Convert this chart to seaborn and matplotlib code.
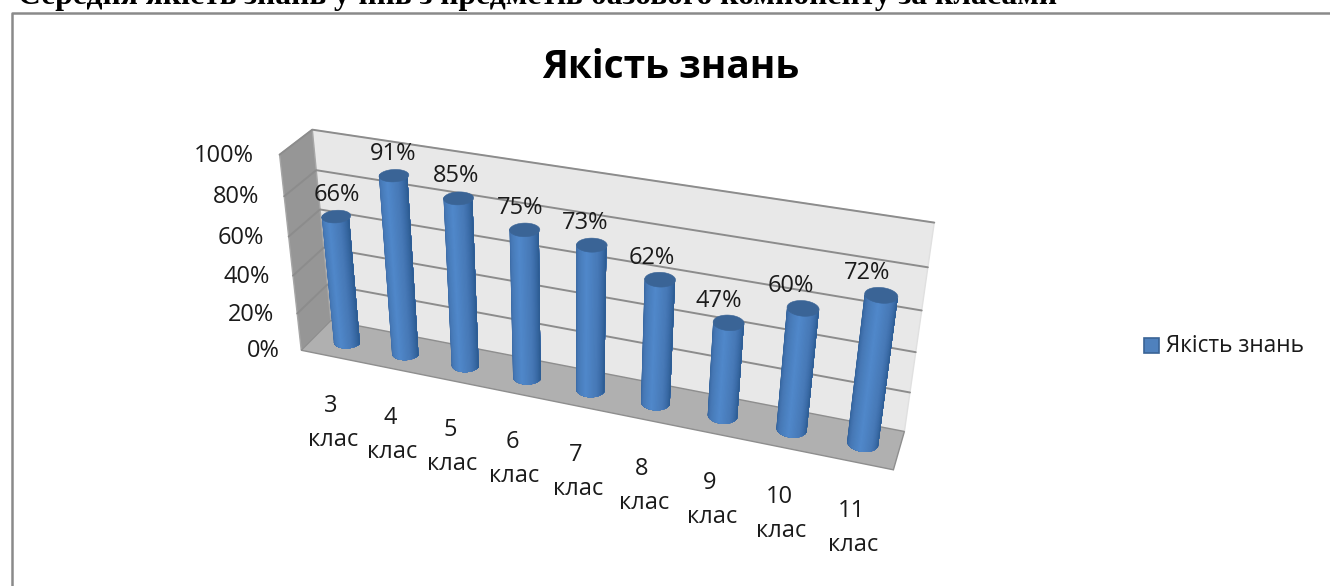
import numpy as np
import matplotlib
matplotlib.use('Agg')
import matplotlib.pyplot as plt
import seaborn as sns
from matplotlib.colors import LinearSegmentedColormap
from matplotlib.patches import Polygon, Rectangle

classes = ['3', '4', '5', '6', '7', '8', '9', '10', '11']
quality = [66, 91, 85, 75, 73, 62, 47, 60, 72]
y_ticks = [0, 20, 40, 60, 80, 100]
series_name = 'Якість знань'
chart_title = 'Якість знань'
page_heading = 'Середня якість знань учнів з предметів базового компоненту за класами'

FONT = 'Open Sans'
TEXT_COL = '#1a1a1a'
# box corners in the picture: (across, depth, height) -> pixel
BOX = [
    ((0, 0, 0), (304, 348)), ((1, 0, 0), (893, 472)),
    ((0, 1, 0), (328, 323)), ((1, 1, 0), (905, 429)),
    ((0, 0, 1), (277, 155)), ((0, 1, 1), (315, 129)),
    ((1, 1, 1), (934, 223)),
]


def fit_camera(box):
    rows = []
    for (a, d, h), (px, py) in box:
        px, py = px / 1000, py / 1000
        rows.append([a, d, h, 1, 0, 0, 0, 0, -px * a, -px * d, -px * h, -px])
        rows.append([0, 0, 0, 0, a, d, h, 1, -py * a, -py * d, -py * h, -py])
    return np.linalg.svd(np.array(rows))[2][-1].reshape(3, 4)


CAM = fit_camera(BOX)


def project(a, d, h):
    # a, d, h can be arrays
    a, d, h = np.broadcast_arrays(a, d, h)
    pts = np.stack([a, d, h, np.ones_like(a, dtype=float)])
    res = CAM @ pts.reshape(4, -1)
    return np.stack([res[0] / res[2], res[1] / res[2]], axis=-1) * 1000


sns.set_theme(style='white')
plt.rcParams['font.family'] = [FONT, 'DejaVu Sans']
fig = plt.figure(figsize=(13.3, 5.86), dpi=100)
fig.patch.set_facecolor('white')

# bar geometry comes from seaborn on a hidden axes
data_ax = fig.add_axes([0, 0, 1, 1])
sns.barplot(x=classes, y=quality, ax=data_ax, width=0.46)
data_ax.set_ylim(0, 100)
data_ax.set_xlim(-0.55, 8.5)
x_lo, x_hi = data_ax.get_xlim()
bars = list(data_ax.patches)
data_ax.set_visible(False)

ax = fig.add_axes([0, 0, 1, 1])
ax.set_xlim(0, 1330)
ax.set_ylim(586, 0)
ax.axis('off')

# page frame runs off the right and bottom of the picture
ax.plot([11.5, 11.5, 1340], [600, 13, 13], color='#8a8a8a', lw=1.8)
ax.text(18, 4, page_heading, family='Liberation Serif', weight='bold', fontsize=22.8,
        color='black', ha='left', va='baseline')
ax.text(671, 67, chart_title, fontsize=28, weight='bold', color='black', ha='center', va='center')


def face(corners, color, edge='#a6a6a6'):
    xy = np.array([project(*c)[0] for c in corners])
    ax.add_patch(Polygon(xy, closed=True, fc=color, ec=edge, lw=1, zorder=1))


face([(0, 1, 0), (1, 1, 0), (1, 1, 1), (0, 1, 1)], '#e8e8e8', '#e0e0e0')
face([(0, 0, 0), (0, 1, 0), (0, 1, 1), (0, 0, 1)], '#969696')
face([(0, 0, 0), (1, 0, 0), (1, 1, 0), (0, 1, 0)], '#b0b0b0', '#8e8e8e')

for tick in y_ticks:
    h = tick / 100
    line = np.array([project(0, 0, h)[0], project(0, 1, h)[0], project(1, 1, h)[0]])
    if tick > 0:
        ax.plot(line[:, 0], line[:, 1], color='#8c8c8c', lw=1.4, zorder=2)
    ax.text(line[0, 0] - 22 - 4 * h, line[0, 1] + 1, f'{tick}%', fontsize=17, color=TEXT_COL,
            ha='right', va='center')

shade = LinearSegmentedColormap.from_list('cyl', ['#2b5a92', '#4576b3', '#5088ca', '#4678b6', '#2c5b92'])
R_A, R_D = 0.0235, 0.22
thetas = np.linspace(np.pi, 2 * np.pi, 40)

for n, (bar, name) in enumerate(zip(bars, classes)):
    centre = (bar.get_x() + bar.get_width() / 2 - x_lo) / (x_hi - x_lo)
    h = bar.get_height() / 100
    # each strip reaches to the far side, the next one paints over it so no seams show
    for k in range(len(thetas) - 1):
        t = thetas[k:]
        a = centre + R_A * np.cos(t)
        d = 0.5 + R_D * np.sin(t)
        outline = np.vstack([project(a, d, 0), project(a, d, h)[::-1]])
        ax.add_patch(Polygon(outline, closed=True, fc=shade(k / (len(thetas) - 2)), ec='none',
                             zorder=3 + n, snap=False))
    t = np.linspace(0, 2 * np.pi, 60)
    top = project(centre + R_A * np.cos(t), 0.5 + R_D * np.sin(t), h)
    ax.add_patch(Polygon(top, closed=True, fc='#3a6496', ec='#3a6496', lw=0.4, zorder=3 + n, snap=False))

    mid = project(centre, 0.5, h)[0]
    ax.text(mid[0] + 1 - 1.9 * n, mid[1] - 22, f'{quality[n]}%', fontsize=17, color=TEXT_COL,
            ha='center', va='center', zorder=20)

    foot = project(centre, 0, 0)[0]
    shift = 3 * (1 - n / 8)
    ax.text(foot[0] - 5 + shift, foot[1] + 49, name, fontsize=17, color=TEXT_COL, ha='center', va='center')
    ax.text(foot[0] - 3 + shift, foot[1] + 83, 'клас', fontsize=17, color=TEXT_COL, ha='center', va='center')

ax.add_patch(Rectangle((1144, 338), 15, 15, fc='#4f81bd', ec='#3a6496', lw=1.2))
ax.text(1166, 346, series_name, fontsize=16.3, color=TEXT_COL, ha='left', va='center')

fig.savefig('out.png', dpi=100)
